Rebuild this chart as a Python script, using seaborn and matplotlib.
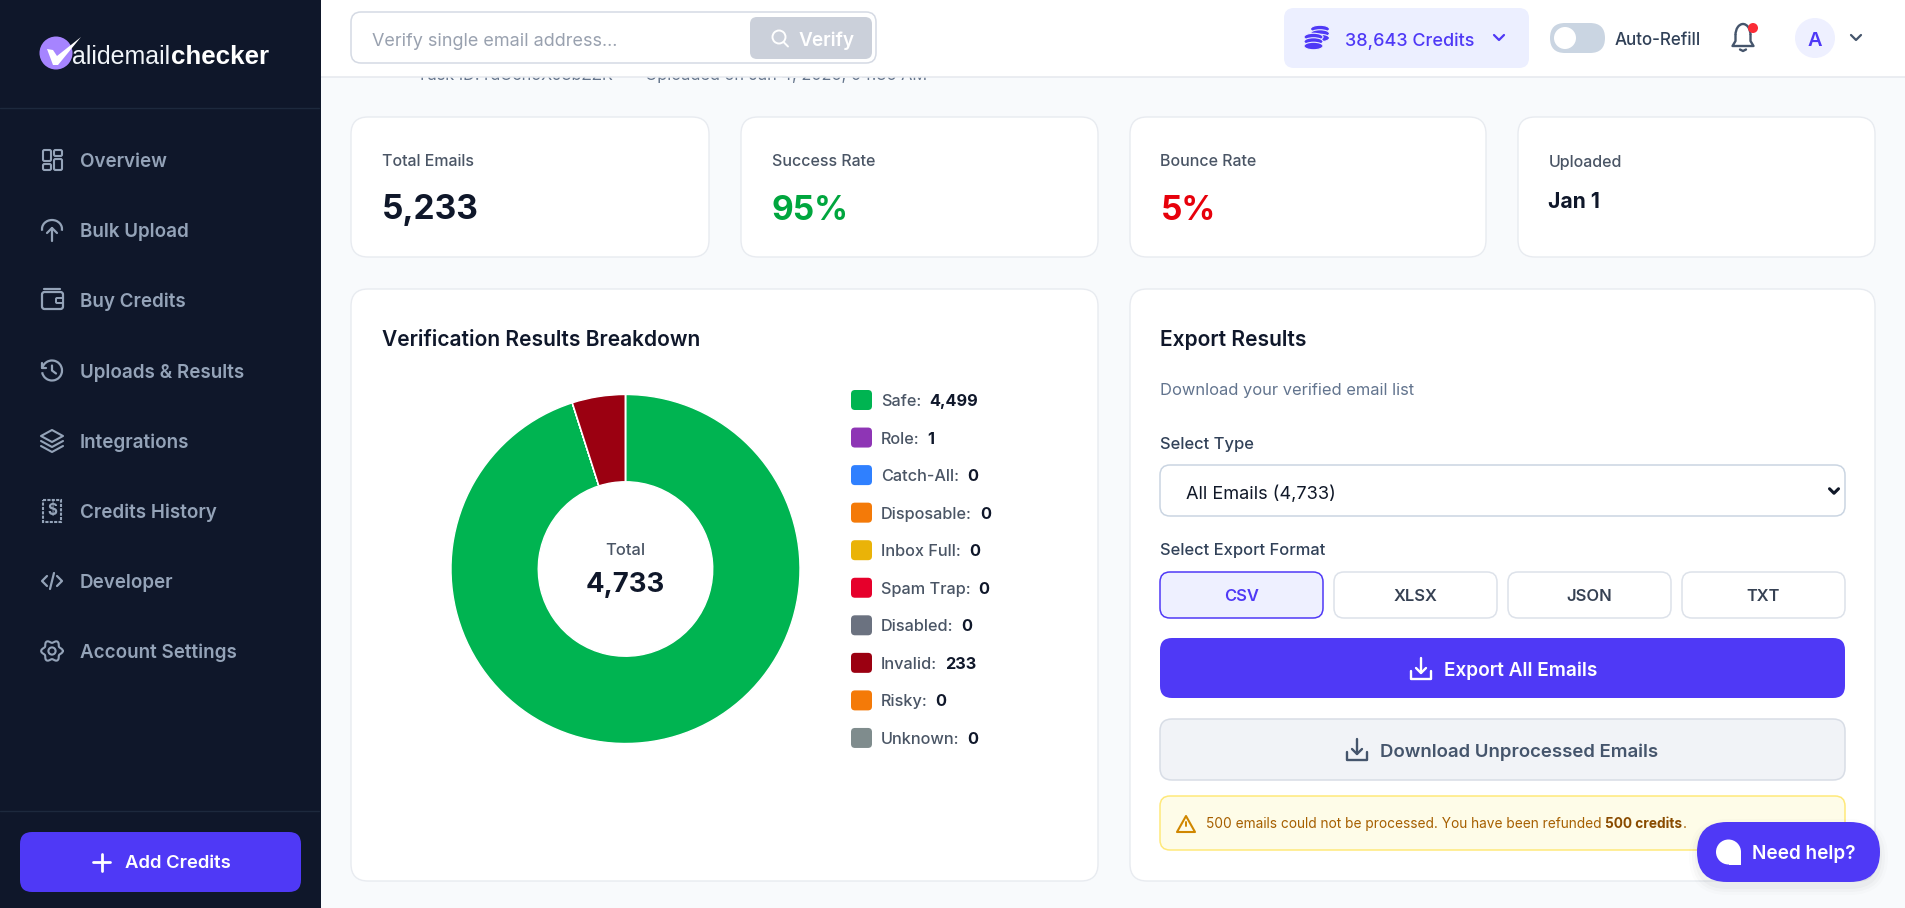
import numpy as np
import matplotlib
matplotlib.use("Agg")
import matplotlib.pyplot as plt
from matplotlib.patches import FancyBboxPatch, Circle, Rectangle, Ellipse, Polygon, Arc
import seaborn as sns

W, H = 1905, 908

# --- data ---
result_labels = ["Safe", "Role", "Catch-All", "Disposable", "Inbox Full", "Spam Trap",
                 "Disabled", "Invalid", "Risky", "Unknown"]
result_values = [4499, 1, 0, 0, 0, 0, 0, 233, 0, 0]
result_colors = ["#00B451", "#8E35B5", "#2F80FF", "#F47A08", "#EAB308", "#E6002B",
                 "#6B7280", "#9B0011", "#F47A08", "#7F8C8D"]
nav_items = ["Overview", "Bulk Upload", "Buy Credits", "Uploads & Results", "Integrations",
             "Credits History", "Developer", "Account Settings"]
stat_labels = ["Total Emails", "Success Rate", "Bounce Rate", "Uploaded"]
stat_values = ["5,233", "95%", "5%", "Jan 1"]
stat_colors = ["#0F172A", "#00A63E", "#E7000B", "#0F172A"]
formats = ["CSV", "XLSX", "JSON", "TXT"]

NAVY = "#0F172A"
PURPLE = "#4F39F6"
SLATE = "#94A3B8"
GREY_TXT = "#4A5565"

sns.set_theme(style="white")
plt.rcParams["font.family"] = ["Inter", "DejaVu Sans"]
palette = sns.color_palette(result_colors)

fig = plt.figure(figsize=(W / 100, H / 100), dpi=100, facecolor="#F8FAFC")
ax = fig.add_axes([0, 0, 1, 1])
ax.set_xlim(0, W)
ax.set_ylim(H, 0)
ax.axis("off")


def box(x0, y0, x1, y1, r, fc, ec="none", lw=1, z=2):
    p = FancyBboxPatch((x0, y0), x1 - x0, y1 - y0, boxstyle=f"round,pad=0,rounding_size={r}",
                       fc=fc, ec=ec, lw=lw, zorder=z)
    ax.add_patch(p)


def txt(x, y, s, px, color, weight="normal", ha="left", z=6, family=None):
    # px is the css-like font size, converted to points at dpi 100
    return ax.text(x, y, s, fontsize=px * 0.72, color=color, fontweight=weight, ha=ha,
                   va="center_baseline", zorder=z, family=family)


def line(xs, ys, color, lw=1.6, z=6):
    ax.plot(xs, ys, color=color, lw=lw, solid_capstyle="round", solid_joinstyle="round", zorder=z)


def chevron(cx, cy, s, color, lw=1.6):
    line([cx - s, cx, cx + s], [cy - s / 2, cy + s / 2, cy - s / 2], color, lw)


def download_icon(cx, cy, color):
    line([cx, cx], [cy - 11, cy + 4], color, 1.7)
    line([cx - 5, cx, cx + 5], [cy - 1, cy + 4, cy - 1], color, 1.7)
    line([cx - 10, cx - 10, cx + 10, cx + 10], [cy + 2, cy + 10, cy + 10, cy + 2], color, 1.7)


# --- main column ---
txt(417, 74, "Task ID: rdUcn5XJ3bZZK   ·   Uploaded on Jan 4, 2026, 04:36 AM", 16.3, "#64748B", z=1)

# stat cards
card_x = [(351, 709), (741, 1098), (1130, 1486), (1518, 1875)]
for (x0, x1), lab, val, col in zip(card_x, stat_labels, stat_values, stat_colors):
    box(x0, 117, x1, 257, 17, "white", "#E8EBF0", 1)
    txt(x0 + 30.5, 160.5, lab, 16, GREY_TXT, "medium")
    if val == "Jan 1":
        txt(x0 + 30.5, 200.5, val, 21, col, "bold")
    else:
        txt(x0 + 30.5, 207, val, 33.5, col, "bold")

# result cards
box(351, 289, 1098, 881, 17, "white", "#E8EBF0", 1)
box(1130, 289, 1875, 881, 17, "white", "#E8EBF0", 1)
txt(382, 337.5, "Verification Results Breakdown", 21, NAVY, "semibold")
txt(1160, 337.5, "Export Results", 21, NAVY, "semibold")

# donut
cx, cy, r = 625.5, 569, 174.5
pie_ax = fig.add_axes([(cx - r) / W, 1 - (cy + r) / H, 2 * r / W, 2 * r / H])
pie_ax.pie(result_values, colors=palette, startangle=90, counterclock=False, radius=1,
           wedgeprops={"width": 0.5, "edgecolor": "white", "linewidth": 1})
pie_ax.set_xlim(-1, 1)
pie_ax.set_ylim(-1, 1)
pie_ax.patch.set_alpha(0)
txt(cx, 549, "Total", 16.5, GREY_TXT, "medium", ha="center", z=8)
txt(cx, 582, "4,733", 27.5, NAVY, "bold", ha="center", z=8)

# legend
fig.canvas.draw()
renderer = fig.canvas.get_renderer()
for i, (lab, val, col) in enumerate(zip(result_labels, result_values, palette)):
    y = 400 + i * 37.55
    box(851, y - 10, 872, y + 10, 4, col)
    t = txt(881, y, f"{lab}:", 16.3, GREY_TXT, "medium")
    x_end = ax.transData.inverted().transform(t.get_window_extent(renderer))[1, 0]
    txt(x_end + 8, y, f"{val:,}", 16.3, NAVY, "bold")

# export panel
txt(1160, 388.5, "Download your verified email list", 16.5, "#62748E")
txt(1160, 443.5, "Select Type", 16.5, "#314158", "medium")
box(1160, 465, 1845, 516, 10, "white", "#CAD5E2", 1.1)
txt(1186, 492, "All Emails (4,733)", 18.2, "#101828")
chevron(1834, 491, 4.5, "#101828", 2.2)
txt(1160, 549.5, "Select Export Format", 16.5, "#314158", "medium")
fmt_x = [(1160, 1323), (1334, 1497), (1508, 1671), (1682, 1845)]
for j, ((x0, x1), f) in enumerate(zip(fmt_x, formats)):
    if j == 0:
        box(x0, 572, x1, 618, 10, "#EEF0FF", PURPLE, 1.1)
        txt((x0 + x1) / 2, 595, f, 16.5, PURPLE, "semibold", ha="center")
    else:
        box(x0, 572, x1, 618, 10, "white", "#DDE2EA", 1.1)
        txt((x0 + x1) / 2, 595, f, 16.5, "#364153", "semibold", ha="center")

box(1160, 638, 1845, 698, 12, PURPLE)
download_icon(1421, 669, "white")
txt(1444, 669, "Export All Emails", 19, "white", "semibold")
box(1160, 719, 1845, 780, 12, "#F1F3F7", "#D8DDE6", 1.1)
download_icon(1357, 750, "#45556C")
txt(1380, 750, "Download Unprocessed Emails", 18.6, "#45556C", "semibold")

box(1160, 796, 1845, 850, 10, "#FEFCE8", "#FFE97A", 1.1)
ax.add_patch(Polygon([[1186, 816], [1177, 832], [1195, 832]], closed=True, fc="none", ec="#D08700",
                     lw=1.5, joinstyle="round", zorder=6))
line([1186, 1186], [822, 826], "#D08700", 1.4)
line([1186, 1186], [829, 829.3], "#D08700", 1.4)
t = txt(1206, 822.5, "500 emails could not be processed. You have been refunded ", 13.7, "#A65F00")
x_end = ax.transData.inverted().transform(t.get_window_extent(renderer))[1, 0]
t2 = txt(x_end, 822.5, "500 credits", 13.7, "#894B00", "bold")
x_end = ax.transData.inverted().transform(t2.get_window_extent(renderer))[1, 0]
txt(x_end, 822.5, ".", 13.7, "#A65F00")

# chat bubble
for k, a in zip([8, 5, 2], [0.012, 0.018, 0.025]):
    box(1697 - k, 822 - k + 5, 1880 + k, 882 + k + 5, 30 + k, (0, 0, 0, a), z=7)
box(1697, 822, 1880, 882, 30, PURPLE, z=8)
ax.add_patch(Ellipse((1728.5, 852), 25, 25, fc="white", ec="none", zorder=9))
ax.add_patch(Rectangle((1729, 852), 12, 13, fc="white", ec="none", zorder=9))
txt(1752, 852, "Need help?", 19, "white", "semibold", z=9)

# --- header ---
ax.add_patch(Rectangle((321, 0), W - 321, 77, fc="white", ec="none", zorder=3))
line([321, W], [77, 77], "#E5E8EE", 1.1, z=3)
box(351, 12, 876, 63, 10, "white", "#D5DAE4", 1.1, z=4)
txt(372, 39, "Verify single email address...", 18, "#99A1AF")
box(750, 17, 872, 59, 7, "#CBD0DA", z=5)
ax.add_patch(Circle((779, 37), 6.5, fc="none", ec="white", lw=1.4, zorder=6))
line([783.5, 788], [42, 46.5], "white", 1.4)
txt(799, 39, "Verify", 19, "white", "semibold")

box(1284, 8, 1529, 68, 10, "#ECEFFF", z=4)
# coin stacks, back then front
for ey in [29, 33.5, 38]:
    ax.add_patch(Ellipse((1320, ey), 19, 7.5, fc=PURPLE, ec="#ECEFFF", lw=0.8, zorder=6))
for ey in [37, 41.5, 46]:
    ax.add_patch(Ellipse((1313.5, ey), 19, 7.5, fc=PURPLE, ec="#ECEFFF", lw=0.8, zorder=6))
txt(1345, 39, "38,643 Credits", 18, PURPLE, "medium")
chevron(1499, 37.5, 5, PURPLE, 1.6)

box(1550, 23, 1605, 53, 15, "#CAD5E2", z=4)
ax.add_patch(Circle((1565, 38), 11, fc="white", ec="none", zorder=5))
txt(1615, 38.5, "Auto-Refill", 17, "#314158", "medium")

# bell
ax.add_patch(Arc((1743, 35), 15, 22, theta1=180, theta2=360, ec="#45556C", lw=1.7, zorder=6))
line([1735.5, 1735.5, 1732.5, 1753.5, 1750.5, 1750.5], [35, 41, 46, 46, 41, 35], "#45556C", 1.7)
line([1740, 1743, 1746], [49.5, 51, 49.5], "#45556C", 1.7)
ax.add_patch(Circle((1753, 28), 5, fc="#FB2C36", ec="none", zorder=7))

ax.add_patch(Circle((1815, 38), 20, fc="#EEF0FF", ec="none", zorder=5))
txt(1815, 39, "A", 20, PURPLE, "semibold", ha="center")
chevron(1856, 37.5, 5, "#45556C", 1.6)

# --- sidebar ---
ax.add_patch(Rectangle((0, 0), 321, H, fc=NAVY, ec="none", zorder=4))
line([0, 319], [108, 108], "#1D293D", 1, z=5)
line([0, 319], [811, 811], "#1D293D", 1, z=5)

# logo
ax.add_patch(Circle((56, 53), 16.5, fc="#A684FF", ec="none", zorder=6))
ax.add_patch(Polygon([[47, 49], [53, 50], [57, 56], [81, 37], [58, 65], [53, 65]], closed=True,
                     fc="white", ec="none", zorder=7))
txt(72, 54, "alidemail", 25, "#F1F5F9", z=7, family="Liberation Sans")
txt(171, 54, "checker", 26, "white", "bold", z=7, family="Liberation Sans")

nav_y = [160, 230, 300, 370.5, 441, 511, 581, 651]
for name, y in zip(nav_items, nav_y):
    txt(80, y, name, 18.8, SLATE, "semibold")

# nav icons, drawn by hand
ic = SLATE
y = nav_y[0]
for bx, by, bw, bh in [(43, y - 10, 8, 11), (54, y - 10, 8, 6), (43, y + 4, 8, 6), (54, y - 1, 8, 11)]:
    box(bx, by, bx + bw, by + bh, 1.5, "none", ic, 1.5, z=6)
y = nav_y[1]
ax.add_patch(Arc((52, y - 1), 20, 18, theta1=170, theta2=370, ec=ic, lw=1.6, zorder=6))
line([52, 52], [y - 2, y + 11], ic)
line([47, 52, 57], [y + 3, y - 2, y + 3], ic)
y = nav_y[2]
box(42, y - 8, 63, y + 9, 2.5, "none", ic, 1.6, z=6)
line([44, 60], [y - 11, y - 11], ic)
box(56, y - 2, 63, y + 3, 1, NAVY, ic, 1.4, z=6)
y = nav_y[3]
ax.add_patch(Arc((52, y), 20, 20, theta1=-170, theta2=170, ec=ic, lw=1.6, zorder=6))
line([42, 42, 46], [y - 8, y - 3, y - 3], ic)
line([52, 52, 56], [y - 5, y, y + 3], ic)
y = nav_y[4]
ax.add_patch(Polygon([[52, y - 11], [63, y - 5], [52, y + 1], [41, y - 5]], closed=True, fc="none", ec=ic,
                     lw=1.5, joinstyle="round", zorder=6))
line([41, 52, 63], [y, y + 6, y], ic, 1.5)
line([41, 52, 63], [y + 5, y + 11, y + 5], ic, 1.5)
y = nav_y[5]
ax.add_patch(Rectangle((43, y - 11), 18, 22, fc="none", ec=ic, lw=1.5, ls=(0, (1.5, 0.6)), zorder=6))
ax.text(52, y, "$", fontsize=11, color=ic, fontweight="bold", ha="center", va="center", zorder=6)
y = nav_y[6]
line([47, 42, 47], [y - 5, y, y + 5], ic)
line([57, 62, 57], [y - 5, y, y + 5], ic)
line([50, 54], [y + 8, y - 8], ic)
y = nav_y[7]
ax.add_patch(Circle((52, y), 3.6, fc="none", ec=ic, lw=1.5, zorder=6))
ang = np.linspace(0, 2 * np.pi, 49)
rad = 9.5 + 1.4 * np.cos(6 * ang)
line(52 + rad * np.cos(ang), y + rad * np.sin(ang), ic, 1.5)

box(20, 832, 301, 892, 12, PURPLE, z=5)
line([93, 110], [862, 862], "white", 2)
line([101.5, 101.5], [853.5, 870.5], "white", 2)
txt(125, 862, "Add Credits", 18.5, "white", "semibold")

fig.savefig("out.png", dpi=100, facecolor=fig.get_facecolor())
